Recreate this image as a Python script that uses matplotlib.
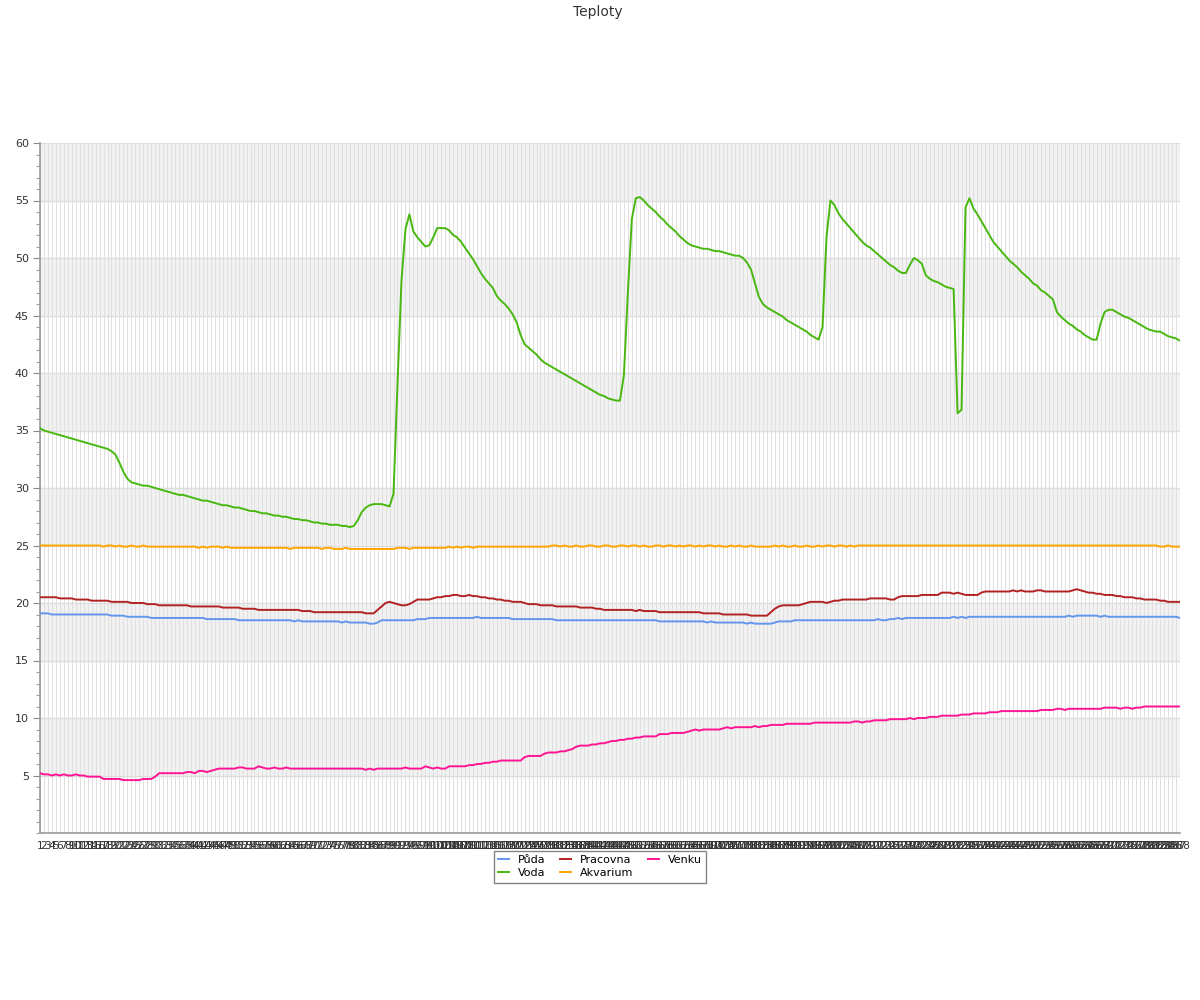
import matplotlib
matplotlib.use('Agg')
import numpy as np
import matplotlib.pyplot as plt
from matplotlib.ticker import MultipleLocator

# kategorie na ose x (1..288)
kategorie = [str(i) for i in range(1, 289)]

puda = [
    19.1, 19.1, 19.1, 19.0, 19.0, 19.0, 19.0, 19.0, 19.0, 19.0,
    19.0, 19.0, 19.0, 19.0, 19.0, 19.0, 19.0, 19.0, 18.9, 18.9,
    18.9, 18.9, 18.8, 18.8, 18.8, 18.8, 18.8, 18.8, 18.7, 18.7,
    18.7, 18.7, 18.7, 18.7, 18.7, 18.7, 18.7, 18.7, 18.7, 18.7,
    18.7, 18.7, 18.6, 18.6, 18.6, 18.6, 18.6, 18.6, 18.6, 18.6,
    18.5, 18.5, 18.5, 18.5, 18.5, 18.5, 18.5, 18.5, 18.5, 18.5,
    18.5, 18.5, 18.5, 18.5, 18.4, 18.5, 18.4, 18.4, 18.4, 18.4,
    18.4, 18.4, 18.4, 18.4, 18.4, 18.4, 18.3, 18.4, 18.3, 18.3,
    18.3, 18.3, 18.3, 18.2, 18.2, 18.3, 18.5, 18.5, 18.5, 18.5,
    18.5, 18.5, 18.5, 18.5, 18.5, 18.6, 18.6, 18.6, 18.7, 18.7,
    18.7, 18.7, 18.7, 18.7, 18.7, 18.7, 18.7, 18.7, 18.7, 18.7,
    18.8, 18.7, 18.7, 18.7, 18.7, 18.7, 18.7, 18.7, 18.7, 18.6,
    18.6, 18.6, 18.6, 18.6, 18.6, 18.6, 18.6, 18.6, 18.6, 18.6,
    18.5, 18.5, 18.5, 18.5, 18.5, 18.5, 18.5, 18.5, 18.5, 18.5,
    18.5, 18.5, 18.5, 18.5, 18.5, 18.5, 18.5, 18.5, 18.5, 18.5,
    18.5, 18.5, 18.5, 18.5, 18.5, 18.5, 18.4, 18.4, 18.4, 18.4,
    18.4, 18.4, 18.4, 18.4, 18.4, 18.4, 18.4, 18.4, 18.3, 18.4,
    18.3, 18.3, 18.3, 18.3, 18.3, 18.3, 18.3, 18.3, 18.2, 18.3,
    18.2, 18.2, 18.2, 18.2, 18.2, 18.3, 18.4, 18.4, 18.4, 18.4,
    18.5, 18.5, 18.5, 18.5, 18.5, 18.5, 18.5, 18.5, 18.5, 18.5,
    18.5, 18.5, 18.5, 18.5, 18.5, 18.5, 18.5, 18.5, 18.5, 18.5,
    18.5, 18.6, 18.5, 18.5, 18.6, 18.6, 18.7, 18.6, 18.7, 18.7,
    18.7, 18.7, 18.7, 18.7, 18.7, 18.7, 18.7, 18.7, 18.7, 18.7,
    18.8, 18.7, 18.8, 18.7, 18.8, 18.8, 18.8, 18.8, 18.8, 18.8,
    18.8, 18.8, 18.8, 18.8, 18.8, 18.8, 18.8, 18.8, 18.8, 18.8,
    18.8, 18.8, 18.8, 18.8, 18.8, 18.8, 18.8, 18.8, 18.8, 18.9,
    18.8, 18.9, 18.9, 18.9, 18.9, 18.9, 18.9, 18.8, 18.9, 18.8,
    18.8, 18.8, 18.8, 18.8, 18.8, 18.8, 18.8, 18.8, 18.8, 18.8,
    18.8, 18.8, 18.8, 18.8, 18.8, 18.8, 18.8, 18.7,
]

voda = [
    35.2, 35.0, 34.9, 34.8, 34.7, 34.6, 34.5, 34.4, 34.3, 34.2,
    34.1, 34.0, 33.9, 33.8, 33.7, 33.6, 33.5, 33.4, 33.2, 32.9,
    32.2, 31.4, 30.8, 30.5, 30.4, 30.3, 30.2, 30.2, 30.1, 30.0,
    29.9, 29.8, 29.7, 29.6, 29.5, 29.4, 29.4, 29.3, 29.2, 29.1,
    29.0, 28.9, 28.9, 28.8, 28.7, 28.6, 28.5, 28.5, 28.4, 28.3,
    28.3, 28.2, 28.1, 28.0, 28.0, 27.9, 27.8, 27.8, 27.7, 27.6,
    27.6, 27.5, 27.5, 27.4, 27.3, 27.3, 27.2, 27.2, 27.1, 27.0,
    27.0, 26.9, 26.9, 26.8, 26.8, 26.8, 26.7, 26.7, 26.6, 26.7,
    27.2, 27.9, 28.3, 28.5, 28.6, 28.6, 28.6, 28.5, 28.4, 29.5,
    39.0, 48.0, 52.5, 53.8, 52.3, 51.8, 51.4, 51.0, 51.1, 51.8,
    52.6, 52.6, 52.6, 52.4, 52.0, 51.8, 51.4, 50.9, 50.4, 49.9,
    49.3, 48.7, 48.2, 47.8, 47.4, 46.7, 46.3, 46.0, 45.6, 45.1,
    44.4, 43.3, 42.5, 42.2, 41.9, 41.6, 41.2, 40.9, 40.7, 40.5,
    40.3, 40.1, 39.9, 39.7, 39.5, 39.3, 39.1, 38.9, 38.7, 38.5,
    38.3, 38.1, 38.0, 37.8, 37.7, 37.6, 37.6, 39.8, 47.0, 53.4,
    55.2, 55.3, 55.0, 54.6, 54.3, 54.0, 53.6, 53.3, 52.9, 52.6,
    52.3, 51.9, 51.6, 51.3, 51.1, 51.0, 50.9, 50.8, 50.8, 50.7,
    50.6, 50.6, 50.5, 50.4, 50.3, 50.2, 50.2, 50.0, 49.6, 49.0,
    47.8, 46.6, 46.0, 45.7, 45.5, 45.3, 45.1, 44.9, 44.6, 44.4,
    44.2, 44.0, 43.8, 43.6, 43.3, 43.1, 42.9, 44.0, 51.8, 55.0,
    54.6, 53.9, 53.4, 53.0, 52.6, 52.2, 51.8, 51.4, 51.1, 50.9,
    50.6, 50.3, 50.0, 49.7, 49.4, 49.2, 48.9, 48.7, 48.7, 49.4,
    50.0, 49.8, 49.5, 48.5, 48.2, 48.0, 47.9, 47.7, 47.5, 47.4,
    47.3, 36.5, 36.8, 54.4, 55.2, 54.3, 53.8, 53.2, 52.6, 52.0,
    51.4, 51.0, 50.6, 50.2, 49.8, 49.5, 49.2, 48.8, 48.5, 48.2,
    47.8, 47.6, 47.2, 47.0, 46.7, 46.4, 45.3, 44.9, 44.6, 44.3,
    44.1, 43.8, 43.6, 43.3, 43.1, 42.9, 42.9, 44.3, 45.3, 45.5,
    45.5, 45.3, 45.1, 44.9, 44.8, 44.6, 44.4, 44.2, 44.0, 43.8,
    43.7, 43.6, 43.6, 43.4, 43.2, 43.1, 43.0, 42.8,
]

pracovna = [
    20.5, 20.5, 20.5, 20.5, 20.5, 20.4, 20.4, 20.4, 20.4, 20.3,
    20.3, 20.3, 20.3, 20.2, 20.2, 20.2, 20.2, 20.2, 20.1, 20.1,
    20.1, 20.1, 20.1, 20.0, 20.0, 20.0, 20.0, 19.9, 19.9, 19.9,
    19.8, 19.8, 19.8, 19.8, 19.8, 19.8, 19.8, 19.8, 19.7, 19.7,
    19.7, 19.7, 19.7, 19.7, 19.7, 19.7, 19.6, 19.6, 19.6, 19.6,
    19.6, 19.5, 19.5, 19.5, 19.5, 19.4, 19.4, 19.4, 19.4, 19.4,
    19.4, 19.4, 19.4, 19.4, 19.4, 19.4, 19.3, 19.3, 19.3, 19.2,
    19.2, 19.2, 19.2, 19.2, 19.2, 19.2, 19.2, 19.2, 19.2, 19.2,
    19.2, 19.2, 19.1, 19.1, 19.1, 19.4, 19.7, 20.0, 20.1, 20.0,
    19.9, 19.8, 19.8, 19.9, 20.1, 20.3, 20.3, 20.3, 20.3, 20.4,
    20.5, 20.5, 20.6, 20.6, 20.7, 20.7, 20.6, 20.6, 20.7, 20.6,
    20.6, 20.5, 20.5, 20.4, 20.4, 20.3, 20.3, 20.2, 20.2, 20.1,
    20.1, 20.1, 20.0, 19.9, 19.9, 19.9, 19.8, 19.8, 19.8, 19.8,
    19.7, 19.7, 19.7, 19.7, 19.7, 19.7, 19.6, 19.6, 19.6, 19.6,
    19.5, 19.5, 19.4, 19.4, 19.4, 19.4, 19.4, 19.4, 19.4, 19.4,
    19.3, 19.4, 19.3, 19.3, 19.3, 19.3, 19.2, 19.2, 19.2, 19.2,
    19.2, 19.2, 19.2, 19.2, 19.2, 19.2, 19.2, 19.1, 19.1, 19.1,
    19.1, 19.1, 19.0, 19.0, 19.0, 19.0, 19.0, 19.0, 19.0, 18.9,
    18.9, 18.9, 18.9, 18.9, 19.2, 19.5, 19.7, 19.8, 19.8, 19.8,
    19.8, 19.8, 19.9, 20.0, 20.1, 20.1, 20.1, 20.1, 20.0, 20.1,
    20.2, 20.2, 20.3, 20.3, 20.3, 20.3, 20.3, 20.3, 20.3, 20.4,
    20.4, 20.4, 20.4, 20.4, 20.3, 20.3, 20.5, 20.6, 20.6, 20.6,
    20.6, 20.6, 20.7, 20.7, 20.7, 20.7, 20.7, 20.9, 20.9, 20.9,
    20.8, 20.9, 20.8, 20.7, 20.7, 20.7, 20.7, 20.9, 21.0, 21.0,
    21.0, 21.0, 21.0, 21.0, 21.0, 21.1, 21.0, 21.1, 21.0, 21.0,
    21.0, 21.1, 21.1, 21.0, 21.0, 21.0, 21.0, 21.0, 21.0, 21.0,
    21.1, 21.2, 21.1, 21.0, 20.9, 20.9, 20.8, 20.8, 20.7, 20.7,
    20.7, 20.6, 20.6, 20.5, 20.5, 20.5, 20.4, 20.4, 20.3, 20.3,
    20.3, 20.3, 20.2, 20.2, 20.1, 20.1, 20.1, 20.1,
]

akvarium = [
    25.0, 25.0, 25.0, 25.0, 25.0, 25.0, 25.0, 25.0, 25.0, 25.0,
    25.0, 25.0, 25.0, 25.0, 25.0, 25.0, 24.9, 25.0, 25.0, 24.9,
    25.0, 24.9, 24.9, 25.0, 24.9, 24.9, 25.0, 24.9, 24.9, 24.9,
    24.9, 24.9, 24.9, 24.9, 24.9, 24.9, 24.9, 24.9, 24.9, 24.9,
    24.8, 24.9, 24.8, 24.9, 24.9, 24.9, 24.8, 24.9, 24.8, 24.8,
    24.8, 24.8, 24.8, 24.8, 24.8, 24.8, 24.8, 24.8, 24.8, 24.8,
    24.8, 24.8, 24.8, 24.7, 24.8, 24.8, 24.8, 24.8, 24.8, 24.8,
    24.8, 24.7, 24.8, 24.8, 24.7, 24.7, 24.7, 24.8, 24.7, 24.7,
    24.7, 24.7, 24.7, 24.7, 24.7, 24.7, 24.7, 24.7, 24.7, 24.7,
    24.8, 24.8, 24.8, 24.7, 24.8, 24.8, 24.8, 24.8, 24.8, 24.8,
    24.8, 24.8, 24.8, 24.9, 24.8, 24.9, 24.8, 24.9, 24.9, 24.8,
    24.9, 24.9, 24.9, 24.9, 24.9, 24.9, 24.9, 24.9, 24.9, 24.9,
    24.9, 24.9, 24.9, 24.9, 24.9, 24.9, 24.9, 24.9, 24.9, 25.0,
    25.0, 24.9, 25.0, 24.9, 24.9, 25.0, 24.9, 24.9, 25.0, 25.0,
    24.9, 24.9, 25.0, 25.0, 24.9, 24.9, 25.0, 25.0, 24.9, 25.0,
    25.0, 24.9, 25.0, 24.9, 24.9, 25.0, 25.0, 24.9, 25.0, 25.0,
    24.9, 25.0, 24.9, 25.0, 25.0, 24.9, 25.0, 24.9, 25.0, 25.0,
    24.9, 25.0, 24.9, 24.9, 25.0, 24.9, 25.0, 24.9, 24.9, 25.0,
    24.9, 24.9, 24.9, 24.9, 24.9, 25.0, 24.9, 25.0, 24.9, 24.9,
    25.0, 24.9, 24.9, 25.0, 24.9, 24.9, 25.0, 24.9, 25.0, 25.0,
    24.9, 25.0, 25.0, 24.9, 25.0, 24.9, 25.0, 25.0, 25.0, 25.0,
    25.0, 25.0, 25.0, 25.0, 25.0, 25.0, 25.0, 25.0, 25.0, 25.0,
    25.0, 25.0, 25.0, 25.0, 25.0, 25.0, 25.0, 25.0, 25.0, 25.0,
    25.0, 25.0, 25.0, 25.0, 25.0, 25.0, 25.0, 25.0, 25.0, 25.0,
    25.0, 25.0, 25.0, 25.0, 25.0, 25.0, 25.0, 25.0, 25.0, 25.0,
    25.0, 25.0, 25.0, 25.0, 25.0, 25.0, 25.0, 25.0, 25.0, 25.0,
    25.0, 25.0, 25.0, 25.0, 25.0, 25.0, 25.0, 25.0, 25.0, 25.0,
    25.0, 25.0, 25.0, 25.0, 25.0, 25.0, 25.0, 25.0, 25.0, 25.0,
    25.0, 25.0, 24.9, 24.9, 25.0, 24.9, 24.9, 24.9,
]

venku = [
    5.2, 5.1, 5.1, 5.0, 5.1, 5.0, 5.1, 5.0, 5.0, 5.1,
    5.0, 5.0, 4.9, 4.9, 4.9, 4.9, 4.7, 4.7, 4.7, 4.7,
    4.7, 4.6, 4.6, 4.6, 4.6, 4.6, 4.7, 4.7, 4.7, 4.9,
    5.2, 5.2, 5.2, 5.2, 5.2, 5.2, 5.2, 5.3, 5.3, 5.2,
    5.4, 5.4, 5.3, 5.4, 5.5, 5.6, 5.6, 5.6, 5.6, 5.6,
    5.7, 5.7, 5.6, 5.6, 5.6, 5.8, 5.7, 5.6, 5.6, 5.7,
    5.6, 5.6, 5.7, 5.6, 5.6, 5.6, 5.6, 5.6, 5.6, 5.6,
    5.6, 5.6, 5.6, 5.6, 5.6, 5.6, 5.6, 5.6, 5.6, 5.6,
    5.6, 5.6, 5.5, 5.6, 5.5, 5.6, 5.6, 5.6, 5.6, 5.6,
    5.6, 5.6, 5.7, 5.6, 5.6, 5.6, 5.6, 5.8, 5.7, 5.6,
    5.7, 5.6, 5.6, 5.8, 5.8, 5.8, 5.8, 5.8, 5.9, 5.9,
    6.0, 6.0, 6.1, 6.1, 6.2, 6.2, 6.3, 6.3, 6.3, 6.3,
    6.3, 6.3, 6.6, 6.7, 6.7, 6.7, 6.7, 6.9, 7.0, 7.0,
    7.0, 7.1, 7.1, 7.2, 7.3, 7.5, 7.6, 7.6, 7.6, 7.7,
    7.7, 7.8, 7.8, 7.9, 8.0, 8.0, 8.1, 8.1, 8.2, 8.2,
    8.3, 8.3, 8.4, 8.4, 8.4, 8.4, 8.6, 8.6, 8.6, 8.7,
    8.7, 8.7, 8.7, 8.8, 8.9, 9.0, 8.9, 9.0, 9.0, 9.0,
    9.0, 9.0, 9.1, 9.2, 9.1, 9.2, 9.2, 9.2, 9.2, 9.2,
    9.3, 9.2, 9.3, 9.3, 9.4, 9.4, 9.4, 9.4, 9.5, 9.5,
    9.5, 9.5, 9.5, 9.5, 9.5, 9.6, 9.6, 9.6, 9.6, 9.6,
    9.6, 9.6, 9.6, 9.6, 9.6, 9.7, 9.7, 9.6, 9.7, 9.7,
    9.8, 9.8, 9.8, 9.8, 9.9, 9.9, 9.9, 9.9, 9.9, 10.0,
    9.9, 10.0, 10.0, 10.0, 10.1, 10.1, 10.1, 10.2, 10.2, 10.2,
    10.2, 10.2, 10.3, 10.3, 10.3, 10.4, 10.4, 10.4, 10.4, 10.5,
    10.5, 10.5, 10.6, 10.6, 10.6, 10.6, 10.6, 10.6, 10.6, 10.6,
    10.6, 10.6, 10.7, 10.7, 10.7, 10.7, 10.8, 10.8, 10.7, 10.8,
    10.8, 10.8, 10.8, 10.8, 10.8, 10.8, 10.8, 10.8, 10.9, 10.9,
    10.9, 10.9, 10.8, 10.9, 10.9, 10.8, 10.9, 10.9, 11.0, 11.0,
    11.0, 11.0, 11.0, 11.0, 11.0, 11.0, 11.0, 11.0,
]

serie = [
    ('Půda', puda, '#6495ED'),
    ('Voda', voda, '#48B810'),
    ('Pracovna', pracovna, '#B22222'),
    ('Akvarium', akvarium, '#FFA500'),
    ('Venku', venku, '#FF1493'),
]

fig = plt.figure(figsize=(12, 10), dpi=100)
ax = fig.add_axes([40 / 1200, 0.167, 1140 / 1200, 0.690])

x = np.arange(1, len(kategorie) + 1)

# stridave pruhy na pozadi
for y0 in range(5, 60, 10):
    ax.axhspan(y0, y0 + 5, color='#f2f2f2', zorder=0, lw=0)

# mrizka
for xi in x:
    ax.axvline(xi, color='#e0e0e0', lw=0.8, zorder=1)
for yi in range(5, 61, 5):
    ax.axhline(yi, color='#dddddd', lw=1.0, zorder=1)

for nazev, data, barva in serie:
    ax.plot(x, data, color=barva, lw=1.4, label=nazev, zorder=3)

ax.set_xlim(1, len(kategorie))
ax.set_ylim(0, 60)
ax.set_yticks(range(5, 61, 5))
ax.yaxis.set_minor_locator(MultipleLocator(1))
ax.tick_params(axis='y', which='major', length=5, color='#888888',
               labelsize=8, labelcolor='#333333', pad=3)
ax.tick_params(axis='y', which='minor', length=3, color='#888888')
ax.set_xticks(x)
ax.set_xticklabels(kategorie, fontsize=7.5, color='#333333')
ax.tick_params(axis='x', length=0, pad=6)

for s in ['top', 'right']:
    ax.spines[s].set_visible(False)
for s in ['left', 'bottom']:
    ax.spines[s].set_color('#999999')
    ax.spines[s].set_linewidth(1.2)

fig.text(0.4985, 0.995, 'Teploty', ha='center', va='top', fontsize=10, color='#333333')

leg = fig.legend(loc='upper center', bbox_to_anchor=(0.5, 0.155), ncol=3,
                 fontsize=8, frameon=True, fancybox=False, handlelength=1.0,
                 handletextpad=0.8, columnspacing=1.3, borderpad=0.4,
                 labelspacing=0.3)
leg.get_frame().set_edgecolor('#666666')
leg.get_frame().set_linewidth(1.0)

fig.savefig('out.png', dpi=100)
